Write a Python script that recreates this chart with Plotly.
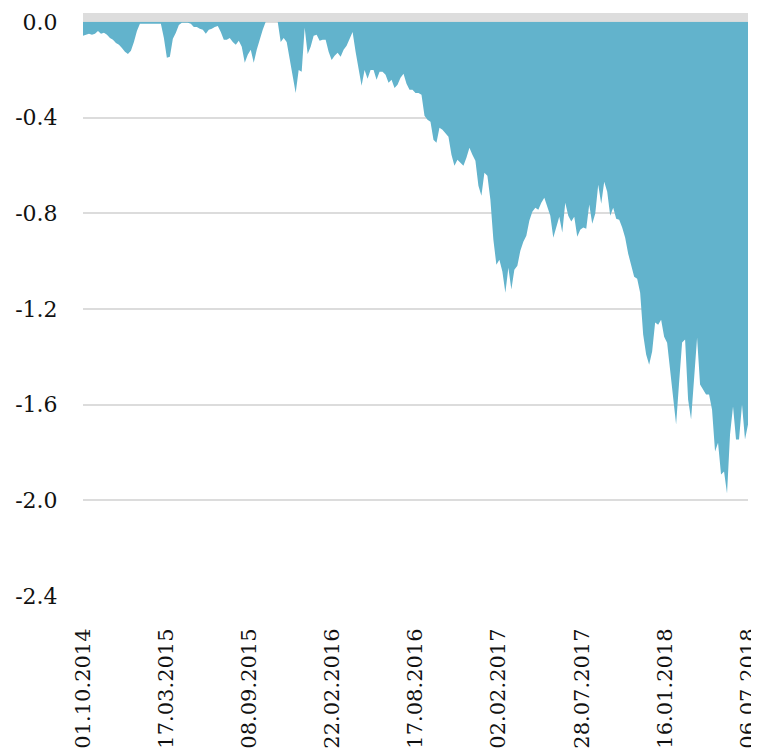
import plotly.graph_objects as go

# Drawdown values sampled evenly along the time axis (01.10.2014 .. 06.07.2018)
drawdown = [
    -0.058, -0.054, -0.050, -0.054, -0.050, -0.038, -0.050, -0.046, -0.054, -0.067,
    -0.075, -0.088, -0.096, -0.109, -0.125, -0.134, -0.121, -0.084, -0.038, -0.008,
    -0.008, -0.006, -0.006, -0.008, -0.008, -0.008, -0.008, -0.067, -0.150, -0.146,
    -0.071, -0.046, -0.013, -0.004, -0.004, -0.004, -0.008, -0.021, -0.021, -0.029,
    -0.033, -0.050, -0.033, -0.029, -0.021, -0.017, -0.042, -0.075, -0.075, -0.067,
    -0.084, -0.096, -0.079, -0.104, -0.171, -0.138, -0.117, -0.171, -0.117, -0.071,
    -0.033, 0.000, 0.000, 0.000, 0.000, 0.000, -0.084, -0.067, -0.084, -0.159,
    -0.217, -0.297, -0.201, -0.209, -0.025, -0.134, -0.104, -0.058, -0.054, -0.079,
    -0.075, -0.075, -0.125, -0.159, -0.142, -0.129, -0.146, -0.117, -0.100, -0.071,
    -0.042, -0.125, -0.201, -0.267, -0.201, -0.238, -0.201, -0.201, -0.242, -0.209,
    -0.209, -0.221, -0.255, -0.242, -0.276, -0.263, -0.234, -0.217, -0.259, -0.284,
    -0.284, -0.297, -0.297, -0.305, -0.393, -0.409, -0.418, -0.493, -0.505, -0.443,
    -0.451, -0.468, -0.480, -0.556, -0.602, -0.576, -0.589, -0.602, -0.568, -0.526,
    -0.556, -0.581, -0.685, -0.727, -0.631, -0.643, -0.744, -0.911, -1.015, -0.994,
    -1.044, -1.132, -1.028, -1.119, -1.036, -1.019, -0.957, -0.919, -0.894, -0.831,
    -0.794, -0.777, -0.785, -0.756, -0.735, -0.777, -0.810, -0.902, -0.860, -0.815,
    -0.881, -0.756, -0.810, -0.835, -0.815, -0.898, -0.869, -0.860, -0.865, -0.764,
    -0.844, -0.802, -0.681, -0.760, -0.668, -0.710, -0.810, -0.777, -0.823, -0.827,
    -0.860, -0.902, -0.969, -1.019, -1.065, -1.074, -1.132, -1.307, -1.391, -1.433,
    -1.378, -1.257, -1.266, -1.245, -1.316, -1.341, -1.454, -1.558, -1.683, -1.508,
    -1.340, -1.328, -1.579, -1.662, -1.487, -1.320, -1.516, -1.537, -1.558, -1.558,
    -1.621, -1.796, -1.759, -1.892, -1.880, -1.972, -1.725, -1.608, -1.746, -1.746,
    -1.600, -1.746, -1.683,
]

tick_labels = [
    "01.10.2014", "17.03.2015", "08.09.2015", "22.02.2016", "17.08.2016",
    "02.02.2017", "28.07.2017", "16.01.2018", "06.07.2018",
]
y_ticks = [0.0, -0.4, -0.8, -1.2, -1.6, -2.0, -2.4]

n = len(drawdown)
x_idx = list(range(n))
tick_pos = [i * (n - 1) / (len(tick_labels) - 1) for i in range(len(tick_labels))]

SERIF = "DejaVu Serif"

fig = go.Figure()
fig.add_trace(go.Scatter(
    x=x_idx, y=drawdown, mode="lines", fill="tozeroy",
    line=dict(width=0, color="#62b3cc"), fillcolor="#62b3cc",
    hoverinfo="skip", showlegend=False,
))

# light grey band along the zero line
fig.add_shape(type="rect", xref="paper", yref="y", x0=0, x1=1, y0=0, y1=0.037,
              fillcolor="#dddddd", line=dict(width=0), layer="above")

# the page body adds an 8 px offset, so the figure is sized to the remaining area
fig.update_layout(
    width=751, height=745,
    margin=dict(l=75, r=11, t=5, b=157),
    paper_bgcolor="white", plot_bgcolor="white",
    font=dict(family=SERIF, color="#111111"),
)
fig.update_xaxes(
    range=[0, n - 1], tickvals=tick_pos, ticktext=tick_labels, tickangle=-90,
    showgrid=False, zeroline=False, showline=False, automargin=False,
    ticklabeloverflow="allow",
    ticks="outside", ticklen=23, tickcolor="rgba(0,0,0,0)",
    tickfont=dict(family=SERIF, size=21, color="#111111"),
)
fig.update_yaxes(
    range=[-2.4, 0.037], tickvals=y_ticks, ticktext=[f"{v:.1f}" for v in y_ticks],
    showgrid=True, gridcolor="#dcdcdc", gridwidth=2, zeroline=False, showline=False,
    automargin=False, ticklabeloverflow="allow",
    ticks="outside", ticklen=20, tickcolor="rgba(0,0,0,0)",
    tickfont=dict(family=SERIF, size=22, color="#111111"),
)

fig.write_html("out.html")
